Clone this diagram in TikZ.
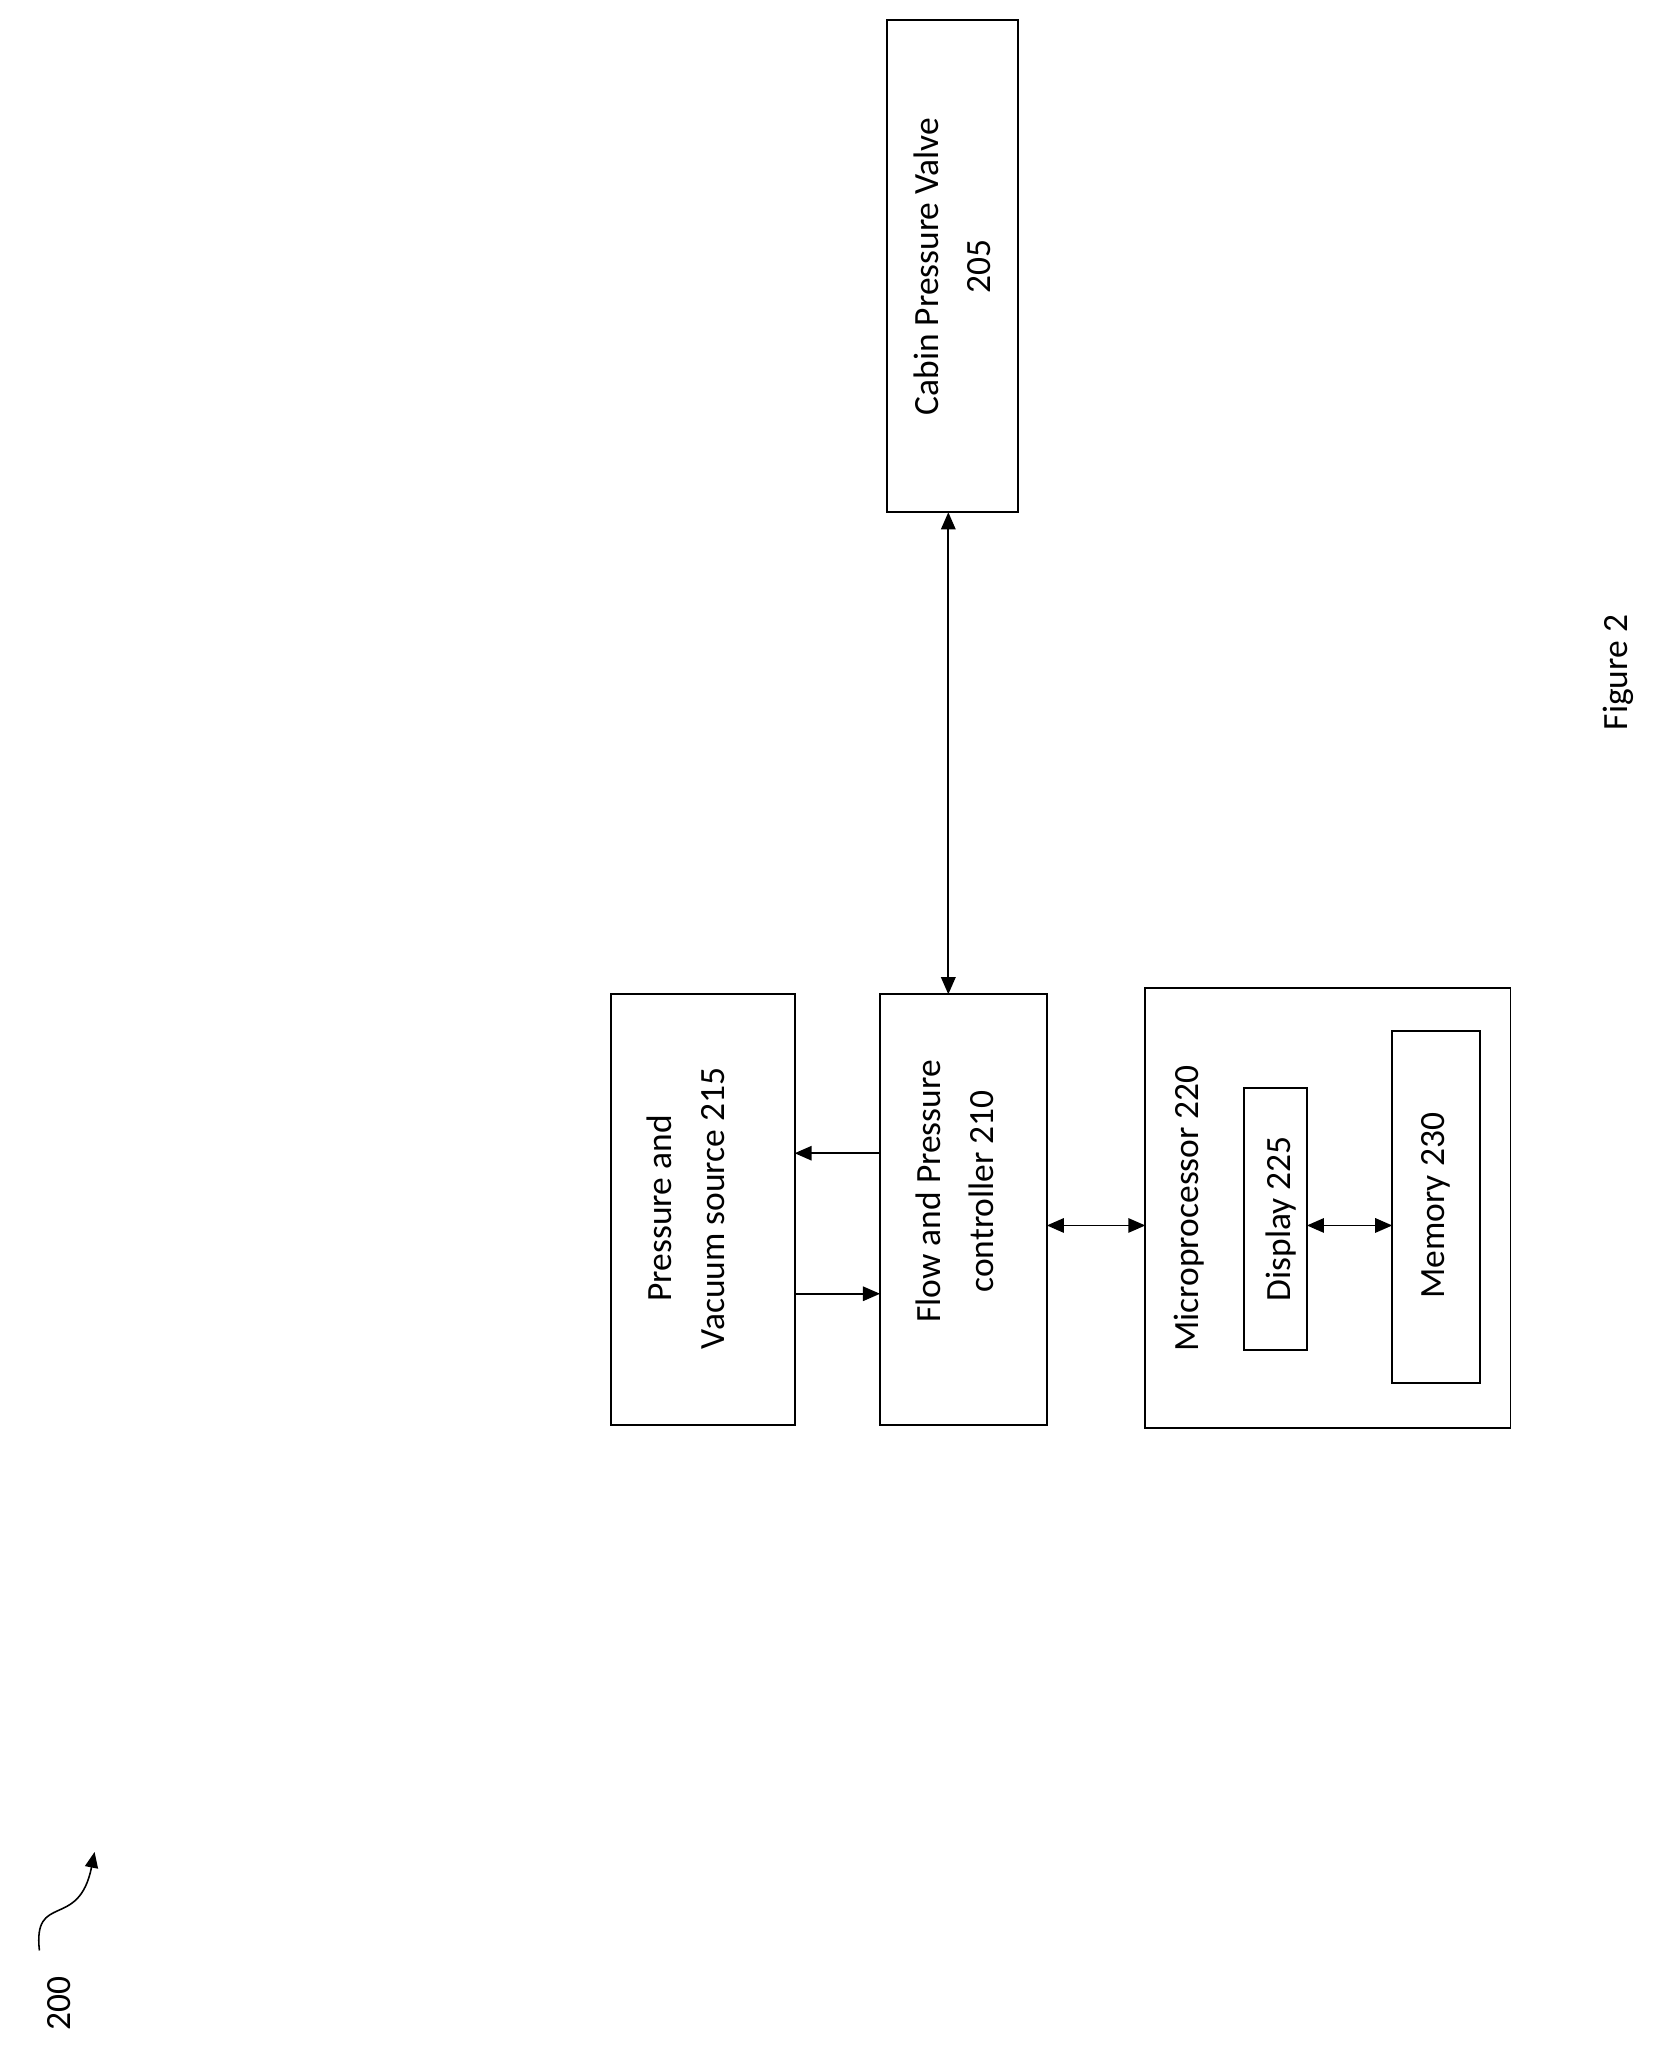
\documentclass[tikz,border=0pt]{standalone}
\usepackage{fontspec}
\setmainfont{Carlito}
\usetikzlibrary{arrows.meta}
\begin{document}
\begin{tikzpicture}[x=1pt,y=-1pt,
  box/.style={draw,line width=1.5pt},
  lbl/.style={rotate=90,align=center,font=\fontsize{27}{40}\selectfont},
  arr/.style={line width=1.3pt,-{Triangle[length=13pt,width=11pt]}},
  darr/.style={line width=1.3pt,{Triangle[length=13pt,width=11pt]}-{Triangle[length=13pt,width=11pt]}}]
\useasboundingbox (0,0) rectangle (1270,1576);
\draw[box] (675,15) rectangle (775,390);
\node[lbl] (cpv) at (725,203) {Cabin Pressure Valve\\205};
\draw[box] (465,757) rectangle (605,1085);
\node[lbl] (pvs) at (522,920) {Pressure and\\Vacuum source 215};
\draw[box] (670,757) rectangle (797,1085);
\node[lbl] (fpc) at (727,907) {Flow and Pressure\\controller 210};
\draw[box] (872,752) rectangle (1150,1087);
\node[lbl] (mp) at (905,920) {Microprocessor 220};
\draw[box] (947,828) rectangle (995,1028);
\node[lbl] (disp) at (975,928) {Display 225};
\draw[box] (1060,785) rectangle (1127,1053);
\node[lbl] (mem) at (1093,918) {Memory 230};
\coordinate (a1) at (722,390); \coordinate (a2) at (722,757);
\draw[darr] (a1) -- (a2);
\coordinate (b1) at (670,878); \coordinate (b2) at (605,878);
\draw[arr] (b1) -- (b2);
\coordinate (c1) at (605,985); \coordinate (c2) at (670,985);
\draw[arr] (c1) -- (c2);
\coordinate (d1) at (797,933); \coordinate (d2) at (872,933);
\draw[darr] (d1) -- (d2);
\coordinate (e1) at (995,933); \coordinate (e2) at (1060,933);
\draw[darr] (e1) -- (e2);
\node[lbl] (fig) at (1232,512) {Figure 2};
\node[lbl] (n200) at (45,1525) {200};
\coordinate (s1) at (30,1485); \coordinate (s2) at (72,1410);
\draw[line width=1.2pt,-{Triangle[length=12pt,width=10pt]}] (s1) .. controls (25,1440) and (60,1470) .. (s2);
\end{tikzpicture}
\end{document}
